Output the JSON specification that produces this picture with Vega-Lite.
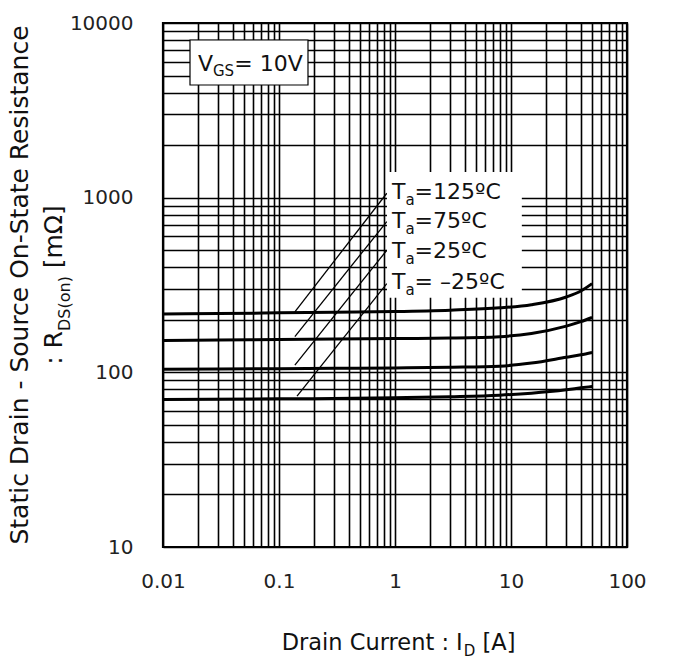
{
  "$schema": "https://vega.github.io/schema/vega-lite/v6.json",
  "width": 464,
  "height": 524,
  "autosize": {"type": "none"},
  "padding": {"left": 163, "top": 23, "right": 69, "bottom": 119},
  "background": "white",
  "config": {"view": {"stroke": "black", "strokeWidth": 2.2}, "font": "DejaVu Sans"},
  "datasets": {
    "curves": [
      {"series": "125", "x": 0.01, "y": 216}, {"series": "125", "x": 0.03, "y": 217}, {"series": "125", "x": 0.1, "y": 219}, {"series": "125", "x": 0.3, "y": 221}, {"series": "125", "x": 1, "y": 223}, {"series": "125", "x": 3, "y": 227}, {"series": "125", "x": 8, "y": 234}, {"series": "125", "x": 15, "y": 244}, {"series": "125", "x": 30, "y": 270}, {"series": "125", "x": 40, "y": 292}, {"series": "125", "x": 50, "y": 322},
      {"series": "75", "x": 0.01, "y": 152}, {"series": "75", "x": 0.03, "y": 153}, {"series": "75", "x": 0.1, "y": 154}, {"series": "75", "x": 0.3, "y": 155}, {"series": "75", "x": 1, "y": 156}, {"series": "75", "x": 3, "y": 157}, {"series": "75", "x": 8, "y": 160}, {"series": "75", "x": 15, "y": 167}, {"series": "75", "x": 30, "y": 184}, {"series": "75", "x": 40, "y": 195}, {"series": "75", "x": 50, "y": 206},
      {"series": "25", "x": 0.01, "y": 104}, {"series": "25", "x": 0.1, "y": 105}, {"series": "25", "x": 0.3, "y": 105.5}, {"series": "25", "x": 1, "y": 106}, {"series": "25", "x": 3, "y": 107}, {"series": "25", "x": 8, "y": 108.5}, {"series": "25", "x": 15, "y": 113}, {"series": "25", "x": 30, "y": 122}, {"series": "25", "x": 40, "y": 126}, {"series": "25", "x": 50, "y": 130},
      {"series": "-25", "x": 0.01, "y": 70}, {"series": "-25", "x": 0.1, "y": 70.5}, {"series": "-25", "x": 1, "y": 71.5}, {"series": "-25", "x": 3, "y": 72.5}, {"series": "-25", "x": 8, "y": 74}, {"series": "-25", "x": 15, "y": 76}, {"series": "-25", "x": 30, "y": 79.5}, {"series": "-25", "x": 40, "y": 81.5}, {"series": "-25", "x": 50, "y": 83}
    ],
    "guides": [
      {"series": "125", "x": 0.137, "y": 222}, {"series": "125", "x": 0.85, "y": 1060},
      {"series": "75", "x": 0.137, "y": 160}, {"series": "75", "x": 0.85, "y": 730},
      {"series": "25", "x": 0.137, "y": 110}, {"series": "25", "x": 0.85, "y": 500},
      {"series": "-25", "x": 0.143, "y": 73}, {"series": "-25", "x": 0.85, "y": 322}
    ],
    "boxes": [
      {"name": "vgs", "x": 0.01709, "x2": 0.1778, "y": 7993, "y2": 4416},
      {"name": "legend", "x": 0.853, "x2": 12.4, "y": 1402, "y2": 267}
    ],
    "labels": [
      {"role": "lg", "text": "T", "x": 0.942, "y": 982.6},
      {"role": "lgsub", "text": "a", "x": 1.229, "y": 907.8},
      {"role": "lg", "text": "=125ºC", "x": 1.476, "y": 982.6},
      {"role": "lg", "text": "T", "x": 0.942, "y": 670.6},
      {"role": "lgsub", "text": "a", "x": 1.229, "y": 619.4},
      {"role": "lg", "text": "=75ºC", "x": 1.476, "y": 670.6},
      {"role": "lg", "text": "T", "x": 0.942, "y": 451.4},
      {"role": "lgsub", "text": "a", "x": 1.229, "y": 417.1},
      {"role": "lg", "text": "=25ºC", "x": 1.476, "y": 451.4},
      {"role": "lg", "text": "T", "x": 0.942, "y": 299.9},
      {"role": "lgsub", "text": "a", "x": 1.229, "y": 277.2},
      {"role": "lg", "text": "= –25ºC", "x": 1.476, "y": 299.9},
      {"role": "lg", "text": "V", "x": 0.02004, "y": 5311},
      {"role": "lgsub", "text": "GS", "x": 0.02698, "y": 4973},
      {"role": "lg", "text": "= 10V", "x": 0.0411, "y": 5311},
      {"role": "xt", "text": "Drain Current : I", "x": 0.1055, "y": 2.572},
      {"role": "xts", "text": "D", "x": 3.91, "y": 2.377},
      {"role": "xt", "text": "[A]", "x": 5.679, "y": 2.572},
      {"role": "yt", "text": "Static Drain - Source On-State Resistance", "x": 0.000686, "y": 316.2},
      {"role": "yt2", "text": ": R", "x": 0.00136, "y": 110.5},
      {"role": "yts", "text": "DS(on)", "x": 0.001579, "y": 172.5},
      {"role": "yt2", "text": "[mΩ]", "x": 0.00136, "y": 394.1}
    ]
  },
  "encoding": {
    "x": {
      "field": "x", "type": "quantitative",
      "scale": {"type": "log", "domain": [0.01, 100]},
      "axis": {
        "title": null,
        "values": [0.01,0.02,0.03,0.04,0.05,0.06,0.07,0.08,0.09,0.1,0.2,0.3,0.4,0.5,0.6,0.7,0.8,0.9,1,2,3,4,5,6,7,8,9,10,20,30,40,50,60,70,80,90,100],
        "format": "~g",
        "labelExpr": "indexof([0.01,0.1,1,10,100], datum.value) >= 0 ? datum.label : ''",
        "grid": true, "gridColor": "black", "gridOpacity": 1, "gridWidth": 1.6,
        "domain": false, "ticks": false, "tickSize": 0,
        "labelFontSize": 20, "labelFont": "DejaVu Sans", "labelColor": "#222",
        "labelPadding": 24, "labelFlush": false, "labelOverlap": false
      }
    },
    "y": {
      "field": "y", "type": "quantitative",
      "scale": {"type": "log", "domain": [10, 10000]},
      "axis": {
        "title": null,
        "values": [10,20,30,40,50,60,70,80,90,100,200,300,400,500,600,700,800,900,1000,2000,3000,4000,5000,6000,7000,8000,9000,10000],
        "format": "~g",
        "labelExpr": "indexof([10,100,1000,10000], datum.value) >= 0 ? datum.label : ''",
        "grid": true, "gridColor": "black", "gridOpacity": 1, "gridWidth": 1.6,
        "domain": false, "ticks": false, "tickSize": 0,
        "labelFontSize": 20, "labelFont": "DejaVu Sans", "labelColor": "#222",
        "labelPadding": 30, "labelFlush": false, "labelOverlap": false
      }
    }
  },
  "layer": [
    {
      "data": {"name": "curves"},
      "mark": {"type": "line", "color": "black", "strokeWidth": 3, "interpolate": "monotone"},
      "encoding": {"detail": {"field": "series"}}
    },
    {
      "data": {"name": "guides"},
      "mark": {"type": "line", "color": "black", "strokeWidth": 1.3},
      "encoding": {"detail": {"field": "series"}}
    },
    {
      "data": {"name": "boxes"},
      "transform": [{"filter": "datum.name == 'legend'"}],
      "mark": {"type": "rect", "fill": "white", "strokeWidth": 0},
      "encoding": {"x2": {"field": "x2"}, "y2": {"field": "y2"}}
    },
    {
      "data": {"name": "boxes"},
      "transform": [{"filter": "datum.name == 'vgs'"}],
      "mark": {"type": "rect", "fill": "white", "stroke": "black", "strokeWidth": 1.2},
      "encoding": {"x2": {"field": "x2"}, "y2": {"field": "y2"}}
    },
    {
      "data": {"name": "labels"},
      "transform": [{"filter": "datum.role == 'lg'"}],
      "mark": {"type": "text", "fontSize": 22, "align": "left", "baseline": "alphabetic", "color": "#111"},
      "encoding": {"text": {"field": "text"}}
    },
    {
      "data": {"name": "labels"},
      "transform": [{"filter": "datum.role == 'lgsub'"}],
      "mark": {"type": "text", "fontSize": 15, "align": "left", "baseline": "alphabetic", "color": "#111"},
      "encoding": {"text": {"field": "text"}}
    },
    {
      "data": {"name": "labels"},
      "transform": [{"filter": "datum.role == 'xt'"}],
      "mark": {"type": "text", "fontSize": 22.5, "align": "left", "baseline": "alphabetic", "color": "#111"},
      "encoding": {"text": {"field": "text"}}
    },
    {
      "data": {"name": "labels"},
      "transform": [{"filter": "datum.role == 'xts'"}],
      "mark": {"type": "text", "fontSize": 15, "align": "left", "baseline": "alphabetic", "color": "#111"},
      "encoding": {"text": {"field": "text"}}
    },
    {
      "data": {"name": "labels"},
      "transform": [{"filter": "datum.role == 'yt'"}],
      "mark": {"type": "text", "fontSize": 25, "align": "center", "baseline": "alphabetic", "angle": 270, "color": "#111"},
      "encoding": {"text": {"field": "text"}}
    },
    {
      "data": {"name": "labels"},
      "transform": [{"filter": "datum.role == 'yt2'"}],
      "mark": {"type": "text", "fontSize": 25, "align": "left", "baseline": "alphabetic", "angle": 270, "color": "#111"},
      "encoding": {"text": {"field": "text"}}
    },
    {
      "data": {"name": "labels"},
      "transform": [{"filter": "datum.role == 'yts'"}],
      "mark": {"type": "text", "fontSize": 16, "align": "left", "baseline": "alphabetic", "angle": 270, "color": "#111"},
      "encoding": {"text": {"field": "text"}}
    }
  ]
}
